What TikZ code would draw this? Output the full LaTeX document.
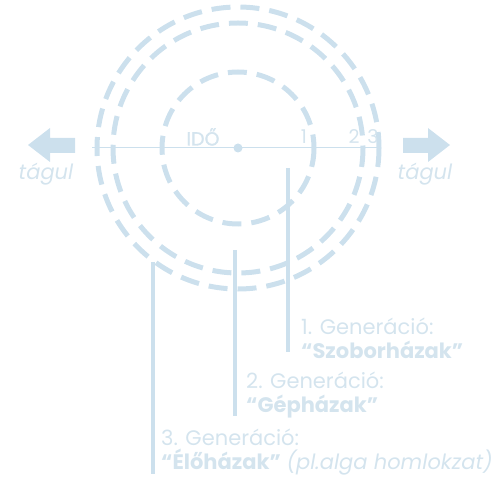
\documentclass[tikz,border=0pt]{standalone}
\usepackage{fontspec}
\setmainfont{Poppins}
\definecolor{lb}{RGB}{204,224,237}
\definecolor{lt}{RGB}{212,228,238}
\begin{document}
\begin{tikzpicture}[x=1pt,y=-1pt,
  ring/.style={draw=lb,line width=5pt,dash pattern=on 19pt off 10pt},
  vbar/.style={draw=lb,line width=4pt},
  bigarrow/.style={fill=lb,draw=none},
  lbl/.style={text=lt,font=\fontsize{21}{24}\selectfont,anchor=west,inner sep=0pt,align=left},
  wide/.style={text=lt,font=\itshape\fontsize{21}{24}\selectfont,inner sep=0pt},
  num/.style={text=lt,font=\fontsize{19}{21}\selectfont,inner sep=0pt}]
\useasboundingbox (0,0) rectangle (495,478);
\coordinate (c) at (238,148);
\draw[ring] (c) circle[radius=76];
\draw[ring] (c) circle[radius=125];
\draw[ring] (c) circle[radius=141];
\coordinate (axl) at (92,148);
\coordinate (axr) at (381,148);
\draw[lb,line width=1pt] (axl) -- (axr);
\fill[lb] (c) circle[radius=4.5];
% arrows
\fill[bigarrow] (28,145) -- (50,128) -- (50,138) -- (75,138) -- (75,153) -- (50,153) -- (50,162) -- cycle;
\fill[bigarrow] (450,145) -- (428,128) -- (428,138) -- (403,138) -- (403,153) -- (428,153) -- (428,162) -- cycle;
\node[wide] (tl) at (46,174) {tágul};
\node[wide] (tr) at (425,174) {tágul};
\node[num,font=\fontsize{19}{21}\selectfont\addfontfeatures{FakeBold=1.5}] (ido) at (203,137) {IDŐ};
\node[num] (n1) at (304,137) {1};
\node[num] (n2) at (354,137) {2};
\node[num] (n3) at (373,137) {3};
% vertical bars
\coordinate (v1t) at (288,168); \coordinate (v1b) at (288,352);
\coordinate (v2t) at (235,250); \coordinate (v2b) at (235,416);
\coordinate (v3t) at (153,262); \coordinate (v3b) at (153,474);
\draw[vbar] (v1t) -- (v1b);
\draw[vbar] (v2t) -- (v2b);
\draw[vbar] (v3t) -- (v3b);
\node[lbl] (g1) at (301,338) {1. Generáció:\\\textbf{“Szoborházak”}};
\node[lbl] (g2) at (246,395) {2. Generáció:\\\textbf{“Gépházak”}};
\node[lbl] (g3) at (161,452) {3. Generáció:\\\textbf{“Élőházak”} \textit{(pl.alga homlokzat)}};
\end{tikzpicture}
\end{document}
